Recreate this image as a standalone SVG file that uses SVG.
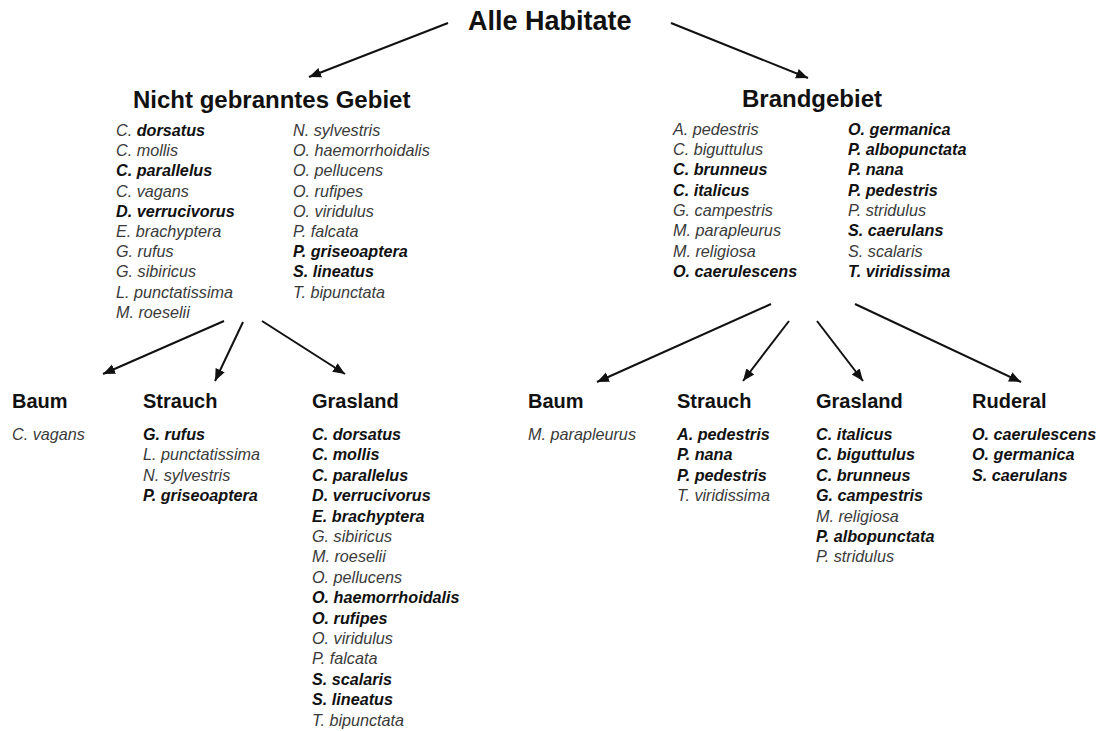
<svg xmlns="http://www.w3.org/2000/svg" width="1102" height="731" viewBox="0 0 1102 731">
<style>
text{font-family:"Liberation Sans",Arial,sans-serif}
.title{font-size:27px;font-weight:bold;fill:#111}
.head{font-size:24px;font-weight:bold;fill:#111}
.sub{font-size:20px;font-weight:bold;fill:#111}
.sp{font-size:16.2px;font-style:italic;fill:#3a3a3a}
.b{font-weight:bold;fill:#111}
.edge{stroke:#111;stroke-width:2;fill:none;marker-end:url(#ah)}
</style>
<defs>
<marker id="ah" markerUnits="userSpaceOnUse" markerWidth="14" markerHeight="12" refX="12" refY="5" orient="auto" viewBox="0 0 14 10">
<path d="M0,0 L12,5 L0,10 Z" fill="#111"/>
</marker>
</defs>
<rect width="1102" height="731" fill="#fff"/>
<g id="connectors">
<line class="edge" x1="448" y1="23" x2="309" y2="77"/>
<line class="edge" x1="671" y1="23" x2="808" y2="78"/>
<line class="edge" x1="224" y1="321" x2="103" y2="374"/>
<line class="edge" x1="243" y1="322" x2="215" y2="381"/>
<line class="edge" x1="262" y1="321" x2="345" y2="374"/>
<line class="edge" x1="771" y1="304" x2="597" y2="382"/>
<line class="edge" x1="789" y1="321" x2="743" y2="381"/>
<line class="edge" x1="817" y1="321" x2="863" y2="381"/>
<line class="edge" x1="855" y1="304" x2="1021" y2="382"/>
</g>
<g id="alle-habitate">
<text class="title" x="468" y="30">Alle Habitate</text>
</g>
<g id="nicht-gebranntes-gebiet">
<text class="head" x="133" y="108">Nicht gebranntes Gebiet</text>
<text class="sp" x="116" y="136">C. <tspan class="b">dorsatus</tspan></text>
<text class="sp" x="116" y="156.2">C. mollis</text>
<text class="sp b" x="116" y="176.4">C. parallelus</text>
<text class="sp" x="116" y="196.6">C. vagans</text>
<text class="sp b" x="116" y="216.8">D. verrucivorus</text>
<text class="sp" x="116" y="237">E. brachyptera</text>
<text class="sp" x="116" y="257.2">G. rufus</text>
<text class="sp" x="116" y="277.4">G. sibiricus</text>
<text class="sp" x="116" y="297.6">L. punctatissima</text>
<text class="sp" x="116" y="317.8">M. roeselii</text>
<text class="sp" x="293" y="136">N. sylvestris</text>
<text class="sp" x="293" y="156.2">O. haemorrhoidalis</text>
<text class="sp" x="293" y="176.4">O. pellucens</text>
<text class="sp" x="293" y="196.6">O. rufipes</text>
<text class="sp" x="293" y="216.8">O. viridulus</text>
<text class="sp" x="293" y="237">P. falcata</text>
<text class="sp b" x="293" y="257.2">P. griseoaptera</text>
<text class="sp b" x="293" y="277.4">S. lineatus</text>
<text class="sp" x="293" y="297.6">T. bipunctata</text>
</g>
<g id="brandgebiet">
<text class="head" x="742" y="107">Brandgebiet</text>
<text class="sp" x="673" y="135">A. pedestris</text>
<text class="sp" x="673" y="154.5">C. biguttulus</text>
<text class="sp b" x="673" y="174.5">C. brunneus</text>
<text class="sp b" x="673" y="195.5">C. italicus</text>
<text class="sp" x="673" y="216">G. campestris</text>
<text class="sp" x="673" y="236">M. parapleurus</text>
<text class="sp" x="673" y="256.5">M. religiosa</text>
<text class="sp b" x="673" y="277">O. caerulescens</text>
<text class="sp b" x="848" y="135">O. germanica</text>
<text class="sp b" x="848" y="154.5">P. albopunctata</text>
<text class="sp b" x="848" y="174.5">P. nana</text>
<text class="sp b" x="848" y="195.5">P. pedestris</text>
<text class="sp" x="848" y="216">P. stridulus</text>
<text class="sp b" x="848" y="236">S. caerulans</text>
<text class="sp" x="848" y="256.5">S. scalaris</text>
<text class="sp b" x="848" y="277">T. viridissima</text>
</g>
<g id="ng-baum">
<text class="sub" x="12" y="408">Baum</text>
<text class="sp" x="12" y="440">C. vagans</text>
</g>
<g id="ng-strauch">
<text class="sub" x="143" y="408">Strauch</text>
<text class="sp b" x="143" y="440">G. rufus</text>
<text class="sp" x="143" y="460.4">L. punctatissima</text>
<text class="sp" x="143" y="480.8">N. sylvestris</text>
<text class="sp b" x="143" y="501.2">P. griseoaptera</text>
</g>
<g id="ng-grasland">
<text class="sub" x="312" y="408">Grasland</text>
<text class="sp b" x="312" y="440">C. dorsatus</text>
<text class="sp b" x="312" y="460.4">C. mollis</text>
<text class="sp b" x="312" y="480.8">C. parallelus</text>
<text class="sp b" x="312" y="501.2">D. verrucivorus</text>
<text class="sp b" x="312" y="521.6">E. brachyptera</text>
<text class="sp" x="312" y="542">G. sibiricus</text>
<text class="sp" x="312" y="562.4">M. roeselii</text>
<text class="sp" x="312" y="582.8">O. pellucens</text>
<text class="sp b" x="312" y="603.2">O. haemorrhoidalis</text>
<text class="sp b" x="312" y="623.6">O. rufipes</text>
<text class="sp" x="312" y="644">O. viridulus</text>
<text class="sp" x="312" y="664.4">P. falcata</text>
<text class="sp b" x="312" y="684.8">S. scalaris</text>
<text class="sp b" x="312" y="705.2">S. lineatus</text>
<text class="sp" x="312" y="725.6">T. bipunctata</text>
</g>
<g id="b-baum">
<text class="sub" x="528" y="408">Baum</text>
<text class="sp" x="528" y="440">M. parapleurus</text>
</g>
<g id="b-strauch">
<text class="sub" x="677" y="408">Strauch</text>
<text class="sp b" x="677" y="440">A. pedestris</text>
<text class="sp b" x="677" y="460.4">P. nana</text>
<text class="sp b" x="677" y="480.8">P. pedestris</text>
<text class="sp" x="677" y="501.2">T. viridissima</text>
</g>
<g id="b-grasland">
<text class="sub" x="816" y="408">Grasland</text>
<text class="sp b" x="816" y="440">C. italicus</text>
<text class="sp b" x="816" y="460.4">C. biguttulus</text>
<text class="sp b" x="816" y="480.8">C. brunneus</text>
<text class="sp b" x="816" y="501.2">G. campestris</text>
<text class="sp" x="816" y="521.6">M. religiosa</text>
<text class="sp b" x="816" y="542">P. albopunctata</text>
<text class="sp" x="816" y="562.4">P. stridulus</text>
</g>
<g id="b-ruderal">
<text class="sub" x="972" y="408">Ruderal</text>
<text class="sp b" x="972" y="440">O. caerulescens</text>
<text class="sp b" x="972" y="460.4">O. germanica</text>
<text class="sp b" x="972" y="480.8">S. caerulans</text>
</g>
</svg>
